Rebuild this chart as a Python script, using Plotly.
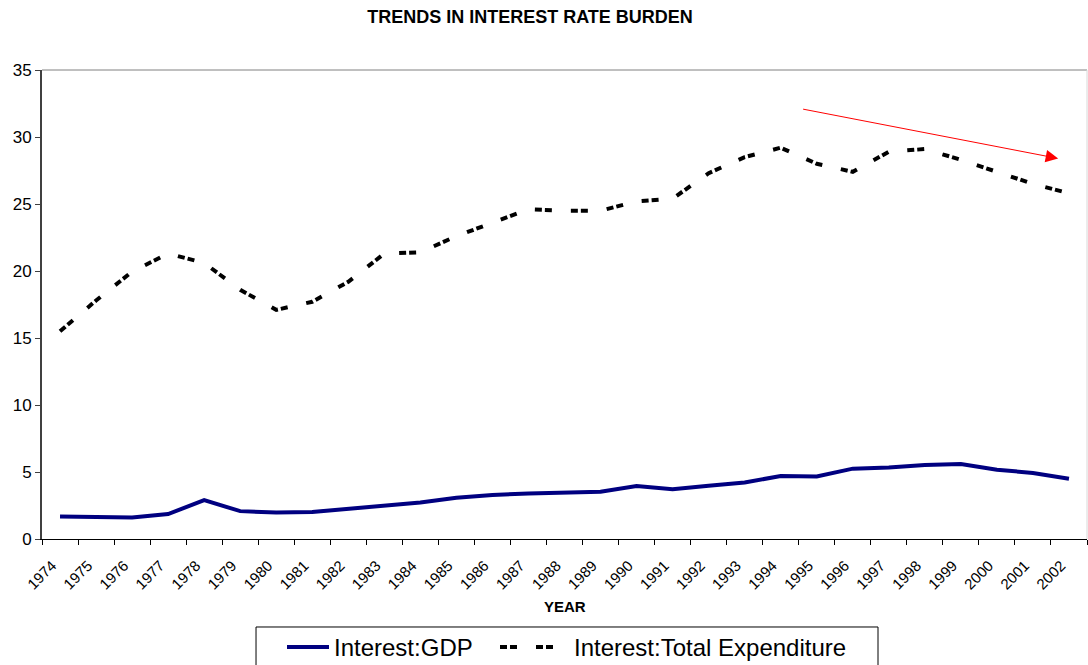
import plotly.graph_objects as go

years = [str(y) for y in range(1974, 2003)]
interest_gdp = [1.68, 1.63, 1.60, 1.86, 2.90, 2.08, 1.97, 2.02, 2.25, 2.48, 2.72,
                3.08, 3.28, 3.40, 3.45, 3.52, 3.95, 3.72, 3.97, 4.22, 4.70, 4.66,
                5.25, 5.33, 5.52, 5.60, 5.17, 4.93, 4.50]
interest_total_exp = [15.5, 17.8, 19.95, 21.3, 20.6, 18.6, 17.1, 17.7, 19.2, 21.3, 21.4,
                      22.6, 23.6, 24.6, 24.5, 24.5, 25.2, 25.4, 27.3, 28.5, 29.2, 28.0,
                      27.4, 28.9, 29.1, 28.3, 27.4, 26.5, 25.8]

FONT = "Arial, Liberation Sans, sans-serif"

fig = go.Figure()
fig.add_trace(go.Scatter(x=years, y=interest_gdp, mode="lines", name="Interest:GDP",
                         line=dict(color="#000080", width=4), legend="legend"))
fig.add_trace(go.Scatter(x=years, y=interest_total_exp, mode="lines",
                         name="Interest:Total Expenditure", legend="legend2",
                         line=dict(color="#000000", width=4, dash="7px,3px,7px,19px")))

fig.update_layout(
    width=1088, height=665,
    margin=dict(l=42, r=1, t=70, b=126, autoexpand=False),
    paper_bgcolor="white", plot_bgcolor="white",
    font=dict(family=FONT, color="black"),
    title=dict(text="<b>TRENDS IN INTEREST RATE BURDEN</b>", x=530/1088, xanchor="center",
               y=1 - 17/665, yanchor="middle", font=dict(size=18, family=FONT)),
    showlegend=True,
    legend=dict(orientation="h", x=(282 - 42) / 1045, xanchor="left", y=-0.1834, yanchor="top",
                borderwidth=0, font=dict(size=24, family=FONT), itemwidth=42,
                bgcolor="rgba(0,0,0,0)"),
    legend2=dict(orientation="h", x=(495 - 42) / 1045, xanchor="left", y=-0.1834, yanchor="top",
                 borderwidth=0, font=dict(size=24, family=FONT), itemwidth=69,
                 bgcolor="rgba(0,0,0,0)"),
    xaxis=dict(type="category", range=[-0.5, 28.5], tickson="boundaries", ticks="outside",
               ticklen=5, tickcolor="black", showline=True, linecolor="black", linewidth=1,
               showgrid=False, tickangle=-45, tickfont=dict(size=15, family=FONT),
               ticklabelstandoff=11, ticklabelshift=-8, zeroline=False),
    yaxis=dict(range=[0, 35], dtick=5, ticks="outside", ticklen=5, tickcolor="#404040",
               showline=True, linecolor="#404040", linewidth=2, showgrid=False,
               zeroline=False, tickfont=dict(size=17, family=FONT)),
)

fig.add_shape(type="line", xref="paper", yref="paper", x0=0, x1=1, y0=1, y1=1,
              line=dict(color="#808080", width=1))
fig.add_shape(type="line", xref="paper", yref="paper", x0=1, x1=1, y0=0, y1=1,
              line=dict(color="#d8d8d8", width=1))
# legend frame
fig.add_shape(type="rect", xref="paper", yref="paper", x0=0.2048, x1=0.8, y0=-0.1876, y1=-0.27,
              line=dict(color="black", width=1), fillcolor="rgba(0,0,0,0)", layer="below")

fig.add_annotation(text="<b>YEAR</b>", xref="paper", yref="paper", x=0.5, y=-0.143,
                   showarrow=False, yanchor="middle", font=dict(size=15, family=FONT))

fig.add_annotation(x=27.7, y=28.4, ax=20.58, ay=32.1, xref="x", yref="y", axref="x", ayref="y",
                   text="", showarrow=True, arrowhead=2, arrowsize=2.5, arrowwidth=1,
                   arrowcolor="#ff0000")

fig.write_html("out.html")
